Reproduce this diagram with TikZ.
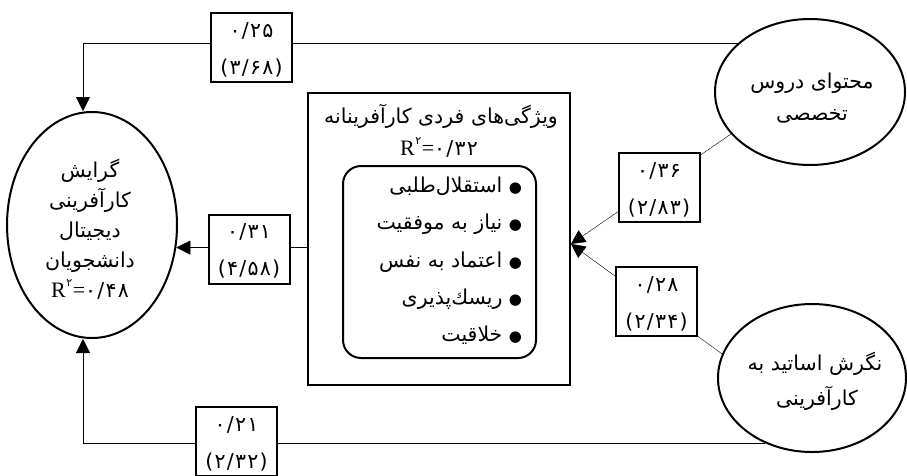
\documentclass[tikz,border=0pt]{standalone}
\usepackage{fontspec}
\setmainfont{Liberation Serif}
\newfontfamily\fa[Script=Arabic]{DejaVu Sans}
\newfontfamily\fanum[Script=Arabic,LetterSpace=6]{DejaVu Sans}
\TeXXeTstate=1
\usetikzlibrary{shapes.geometric,arrows.meta,backgrounds}
\newcommand\rl[1]{\beginR#1\endR}
\newcommand\fatxt{\fa\fontsize{20.5}{24}\selectfont}
\newcommand\numtxt{\fanum\fontsize{20.5}{22}\selectfont}
\newcommand\bul{{\fontsize{15}{15}\selectfont ●}}
\newcommand\Rsq[1]{{\fontsize{22}{24}\selectfont R\kern0.5pt\raisebox{10.5pt}{\fa\fontsize{11}{12}\selectfont ۲}\kern0.5pt=}{\numtxt #1}}

\begin{document}
\begin{tikzpicture}[x=1pt,y=-1pt,line width=2pt,
  oval/.style={draw,ellipse,inner sep=0pt,fill=white},
  lbl/.style={draw,fill=white,minimum width=81pt,minimum height=69pt,inner sep=0pt},
  fatext/.style={font=\fatxt,inner sep=0pt},
  numtext/.style={font=\numtxt,inner sep=0pt},
  arr/.style={-{Triangle[length=14pt,width=14pt]}}]
\useasboundingbox (0,0) rectangle (907,475);

% constructs
\node[oval,minimum width=170pt,minimum height=226pt] (dv) at (92,225) {};
\node[oval,minimum width=190pt,minimum height=146pt] (cont) at (810,92) {};
\node[oval,minimum width=188pt,minimum height=148pt] (att) at (812,378) {};
\node[draw,minimum width=262pt,minimum height=292pt,inner sep=0pt] (ent) at (439,239) {};
\node[draw,rounded corners=18pt,minimum width=193pt,minimum height=192pt,inner sep=0pt] (list) at (439.5,262) {};

% dependent variable
\node[fatext,anchor=base] (dv1) at (90,177) {\rl{گرایش}};
\node[fatext,anchor=base] (dv2) at (90,207) {\rl{کارآفرینی}};
\node[fatext,anchor=base] (dv3) at (90,237) {\rl{دیجیتال}};
\node[fatext,anchor=base] (dv4) at (90,267) {\rl{دانشجویان}};
\node[inner sep=0pt,anchor=base] (dv5) at (90,297) {\Rsq{۰/۴۸}};

% independent variables
\node[fatext,anchor=base] (cont1) at (812,88) {\rl{محتوای دروس}};
\node[fatext,anchor=base] (cont2) at (812,120) {\rl{تخصصی}};
\node[fatext,anchor=base] (att1) at (815,370) {\rl{نگرش اساتید به}};
\node[fatext,anchor=base] (att2) at (817,405) {\rl{کارآفرینی}};

% mediator
\node[fatext,anchor=base] (ttl) at (441,123) {\rl{ویژگی‌های فردی کارآفرینانه}};
\node[inner sep=0pt,anchor=base] (ttlr) at (439,155) {\Rsq{۰/۳۲}};
\node[fatext,anchor=base east] (it1) at (523,192) {\rl{\bul\ استقلال‌طلبی}};
\node[fatext,anchor=base east] (it2) at (523,229.5) {\rl{\bul\ نیاز به موفقیت}};
\node[fatext,anchor=base east] (it3) at (523,267) {\rl{\bul\ اعتماد به نفس}};
\node[fatext,anchor=base east] (it4) at (523,304) {\rl{\bul\ ریسك‌پذیری}};
\node[fatext,anchor=base east] (it5) at (523,341) {\rl{\bul\ خلاقیت}};

% path coefficients
\node[lbl] (b25) at (251.5,47.5) {};
\node[numtext,anchor=base] (b25a) at (251.5,37) {۰/۲۵};
\node[numtext,anchor=base] (b25b) at (251.5,74) {(۳/۶۸)};
\node[lbl] (b31) at (249,249) {};
\node[numtext,anchor=base] (b31a) at (249,238.5) {۰/۳۱};
\node[numtext,anchor=base] (b31b) at (249,275.5) {(۴/۵۸)};
\node[lbl] (b36) at (659,187.5) {};
\node[numtext,anchor=base] (b36a) at (659,177) {۰/۳۶};
\node[numtext,anchor=base] (b36b) at (659,214) {(۲/۸۳)};
\node[lbl] (b28) at (656.5,301.5) {};
\node[numtext,anchor=base] (b28a) at (656.5,291) {۰/۲۸};
\node[numtext,anchor=base] (b28b) at (656.5,328) {(۲/۳۴)};
\node[lbl] (b21) at (236.5,441.5) {};
\node[numtext,anchor=base] (b21a) at (236.5,431) {۰/۲۱};
\node[numtext,anchor=base] (b21b) at (236.5,468) {(۲/۳۲)};

% connectors behind the boxes
\begin{scope}[on background layer]
\draw[arr] (cont.146) -| ([xshift=-9pt]dv.north);
\draw[arr] (att.234) -| ([xshift=-9pt]dv.south);
\draw[arr] (ent.west |- dv.-15) -- (dv.-15);
\draw[arr] (cont.208) -- ([yshift=-5pt]ent.east);
\draw[arr] (att.165.5) -- ([yshift=-5pt]ent.east);
\end{scope}
\end{tikzpicture}
\end{document}
